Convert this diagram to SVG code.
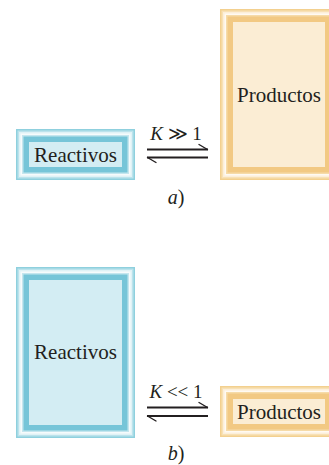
<svg xmlns="http://www.w3.org/2000/svg" width="329" height="465" viewBox="0 0 329 465">
<style>
text{font-family:"Liberation Serif","Times New Roman",serif;fill:#231f20}
.lbl{font-size:21px;text-anchor:middle}
.k{font-size:19px;text-anchor:middle}
.cap{font-size:20px;text-anchor:middle}
.it{font-style:italic}
.b0{fill:#8fd0de}.b1{fill:#bce3ec}.b2{fill:#e0f2f6}.b3{fill:#f6fbfc}.b4{fill:#c4e6ee}.b5{fill:#76c5d8}.b6{fill:#d3edf3}
.o0{fill:#f3d08f}.o1{fill:#f8e1b6}.o2{fill:#fcefd9}.o3{fill:#fffaf2}.o4{fill:#f6dba8}.o5{fill:#f2c983}.o6{fill:#fbedd4}
.ln{stroke:#231f20;stroke-width:2;fill:none}
.bb{stroke:#231f20;stroke-width:1.4;fill:none;stroke-linecap:round}
</style>
<g id="reactivos-a">
<rect class="b0" x="16" y="129" width="119" height="51"/>
<rect class="b1" x="17.5" y="130.5" width="116" height="48"/>
<rect class="b2" x="19" y="132" width="113" height="45"/>
<rect class="b3" x="20.5" y="133.5" width="110" height="42"/>
<rect class="b4" x="22" y="135" width="107" height="39"/>
<rect class="b5" x="23.5" y="136.5" width="104" height="36"/>
<rect class="b6" x="29" y="142" width="93" height="25"/>
<text class="lbl" x="75.5" y="162">Reactivos</text>
</g>
<g id="productos-a">
<rect class="o0" x="220" y="9" width="118" height="171"/>
<rect class="o1" x="221.5" y="10.5" width="115" height="168"/>
<rect class="o2" x="223" y="12" width="112" height="165"/>
<rect class="o3" x="224.5" y="13.5" width="109" height="162"/>
<rect class="o4" x="226" y="15" width="106" height="159"/>
<rect class="o5" x="227.5" y="16.5" width="103" height="156"/>
<rect class="o6" x="233" y="22" width="92" height="145"/>
<text class="lbl" x="279" y="102">Productos</text>
</g>
<g id="reactivos-b">
<rect class="b0" x="16" y="267" width="119" height="171"/>
<rect class="b1" x="17.5" y="268.5" width="116" height="168"/>
<rect class="b2" x="19" y="270" width="113" height="165"/>
<rect class="b3" x="20.5" y="271.5" width="110" height="162"/>
<rect class="b4" x="22" y="273" width="107" height="159"/>
<rect class="b5" x="23.5" y="274.5" width="104" height="156"/>
<rect class="b6" x="29" y="280" width="93" height="145"/>
<text class="lbl" x="75.5" y="359">Reactivos</text>
</g>
<g id="productos-b">
<rect class="o0" x="220" y="386" width="118" height="51"/>
<rect class="o1" x="221.5" y="387.5" width="115" height="48"/>
<rect class="o2" x="223" y="389" width="112" height="45"/>
<rect class="o3" x="224.5" y="390.5" width="109" height="42"/>
<rect class="o4" x="226" y="392" width="106" height="39"/>
<rect class="o5" x="227.5" y="393.5" width="103" height="36"/>
<rect class="o6" x="233" y="399" width="92" height="25"/>
<text class="lbl" x="279" y="419">Productos</text>
</g>
<g id="connectors">
<path class="ln" d="M147,149.5H208"/>
<path class="bb" d="M207.5,149.5L199,144.5"/>
<path class="ln" d="M147,157.5H208"/>
<path class="bb" d="M147.5,157.5L156,162.5"/>
<path class="ln" d="M147,407.5H208"/>
<path class="bb" d="M207.5,407.5L199,402.5"/>
<path class="ln" d="M147,416H208"/>
<path class="bb" d="M147.5,416L156,421"/>
</g>
<g id="labels">
<text class="k" x="176" y="140"><tspan class="it">K</tspan> ≫ 1</text>
<text class="k" x="176" y="398"><tspan class="it">K</tspan> &lt;&lt; 1</text>
<text class="cap" x="176" y="204"><tspan class="it">a</tspan>)</text>
<text class="cap" x="176" y="460"><tspan class="it">b</tspan>)</text>
</g>
</svg>
